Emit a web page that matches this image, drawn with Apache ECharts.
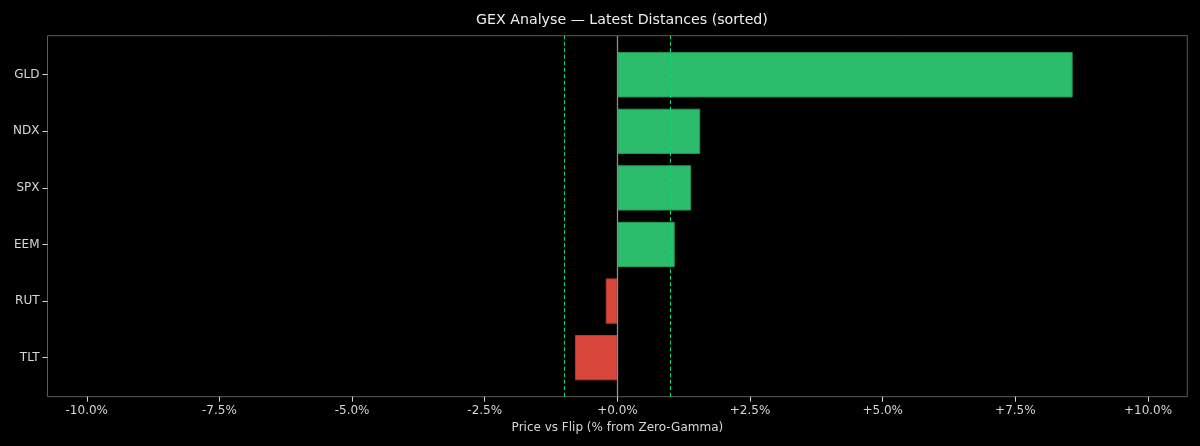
<!DOCTYPE html>
<html>
<head>
<meta charset="utf-8">
<title>GEX Analyse</title>
<script src="https://cdn.jsdelivr.net/npm/echarts@6/dist/echarts.min.js"></script>
<style>
  html, body { margin: 0; padding: 0; background: #000; }
  #chart { width: 1200px; height: 446px; }
</style>
</head>
<body>
<div id="chart"></div>
<script>
// Data
const tickers = ['GLD', 'NDX', 'SPX', 'EEM', 'RUT', 'TLT'];
const distances = [8.58, 1.56, 1.39, 1.08, -0.22, -0.80];
const xTicks = [-10, -7.5, -5, -2.5, 0, 2.5, 5, 7.5, 10];
const flipBand = [-1.0, 1.0];

// Colors
const GREEN = '#2bbd6b';
const RED = '#d7473b';
const TEXT = '#d6d6d6';
const FONT = 'DejaVu Sans';

const chart = echarts.init(document.getElementById('chart'));

function fmtPct(v) {
  return (v >= 0 ? '+' : '') + v.toFixed(1) + '%';
}

const options = {
  backgroundColor: '#000',
  animation: false,
  textStyle: { fontFamily: FONT },
  title: {
    text: 'GEX Analyse — Latest Distances (sorted)',
    left: 617,
    textAlign: 'center',
    top: 8,
    textStyle: { color: '#eeeeee', fontSize: 14.2, fontWeight: 'normal', fontFamily: FONT },
  },
  grid: [
    // frame grid (axis + reference lines)
    { left: 47.5, right: 12.7, top: 35.7, bottom: 49.3, show: true, borderColor: '#5a5a5a', borderWidth: 1, backgroundColor: 'transparent' },
    // bars grid (inset like matplotlib margins)
    { left: 47.5, right: 12.7, top: 46.45, bottom: 60.05 },
  ],
  xAxis: [
    {
      gridIndex: 0,
      type: 'value',
      min: -10.74,
      max: 10.74,
      name: 'Price vs Flip (% from Zero-Gamma)',
      nameLocation: 'middle',
      nameGap: 25,
      nameTextStyle: { color: TEXT, fontSize: 12, fontFamily: FONT },
      axisLine: { show: false },
      splitLine: { show: false },
      axisTick: { show: true, customValues: xTicks, length: 5, lineStyle: { color: TEXT } },
      axisLabel: {
        customValues: xTicks,
        color: TEXT,
        fontSize: 12,
        fontFamily: FONT,
        margin: 8,
        formatter: v => fmtPct(v),
      },
    },
    {
      gridIndex: 1,
      type: 'value',
      min: -10.74,
      max: 10.74,
      show: false,
    },
  ],
  yAxis: [
    { gridIndex: 0, type: 'value', min: 0, max: 1, show: false },
    {
      gridIndex: 1,
      type: 'category',
      data: tickers,
      inverse: true,
      axisLine: { show: false, onZero: false },
      axisTick: { show: true, alignWithLabel: true, length: 5, lineStyle: { color: TEXT } },
      axisLabel: { color: TEXT, fontSize: 12, fontFamily: FONT, margin: 8 },
      splitLine: { show: false },
    },
  ],
  series: [
    {
      type: 'bar',
      xAxisIndex: 1,
      yAxisIndex: 1,
      barWidth: '80%',
      data: distances.map(v => ({
        value: v,
        itemStyle: {
          color: v >= 0 ? GREEN : RED,
          borderColor: v >= 0 ? '#229a56' : '#b83a30',
          borderWidth: 1,
        },
      })),
      z: 2,
    },
    {
      // reference lines: flip band and zero line
      type: 'line',
      xAxisIndex: 0,
      yAxisIndex: 0,
      data: [],
      z: 5,
      markLine: {
        silent: true,
        symbol: 'none',
        label: { show: false },
        animation: false,
        data: [
          ...flipBand.map(v => ({ xAxis: v, lineStyle: { color: '#12d878', type: [4, 2.5], width: 1 } })),
          { xAxis: 0, lineStyle: { color: '#8c8c8c', type: 'solid', width: 1.3 } },
        ],
      },
    },
  ],
};

chart.setOption(options);
</script>
</body>
</html>
